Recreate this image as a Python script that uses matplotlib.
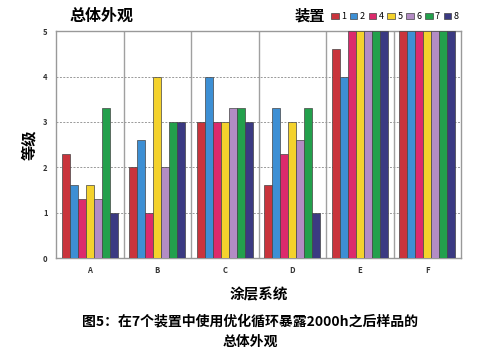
import matplotlib.pyplot as plt
import numpy as np

plt.rcParams['font.family'] = ['Noto Sans CJK SC', 'DejaVu Sans']

systems = ["A", "B", "C", "D", "E", "F"]
devices = ["1", "2", "4", "5", "6", "7", "8"]
ratings = {
    "1": [2.3, 2.0, 3.0, 1.6, 4.6, 5.0],
    "2": [1.6, 2.6, 4.0, 3.3, 4.0, 5.0],
    "4": [1.3, 1.0, 3.0, 2.3, 5.0, 5.0],
    "5": [1.6, 4.0, 3.0, 3.0, 5.0, 5.0],
    "6": [1.3, 2.0, 3.3, 2.6, 5.0, 5.0],
    "7": [3.3, 3.0, 3.3, 3.3, 5.0, 5.0],
    "8": [1.0, 3.0, 3.0, 1.0, 5.0, 5.0],
}
colors = ["#c9343c", "#3d8fd4", "#dc2a6c", "#f4d22c", "#b38cc4", "#23a04c", "#3b3a82"]

fig = plt.figure(figsize=(5, 3.54), dpi=100)
ax = fig.add_axes([0.112, 0.271, 0.81, 0.641])

x = np.arange(len(systems))
bar_w = 0.83 / len(devices)
for i, (dev, col) in enumerate(zip(devices, colors)):
    offs = (i - (len(devices) - 1) / 2) * bar_w
    ax.bar(x + offs, ratings[dev], width=bar_w, color=col, edgecolor="#444444",
           linewidth=0.5, label=dev, zorder=3)

ax.set_xlim(-0.5, len(systems) - 0.5)
ax.set_ylim(0, 5)
ax.set_yticks(range(6))
ax.set_xticks(x)
ax.set_xticklabels(systems)
ax.tick_params(axis="both", labelsize=5.5, length=0, pad=6, colors="#333333")
for lab in ax.get_xticklabels() + ax.get_yticklabels():
    lab.set_fontweight("bold")

ax.yaxis.grid(True, linestyle=(0, (2, 1.5)), color="#999999", linewidth=0.7, zorder=0)
for sep in np.arange(0.5, len(systems) - 0.5):
    ax.axvline(sep, color="#a0a0a0", linewidth=1.0, zorder=1)
for sp in ax.spines.values():
    sp.set_color("#999999")
    sp.set_linewidth(1.0)

ax.set_ylabel("等级", fontsize=11, fontweight="bold", labelpad=4)
ax.set_xlabel("涂层系统", fontsize=10.5, fontweight="bold", labelpad=8)

fig.text(0.14, 0.955, "总体外观", fontsize=11.5, fontweight="bold", ha="left", va="center")
fig.text(0.59, 0.955, "装置", fontsize=11, fontweight="bold", ha="left", va="center")
fig.legend(loc="center left", bbox_to_anchor=(0.662, 0.952), ncol=7, frameon=False,
           fontsize=6.5, handlelength=0.85, handleheight=0.7, handletextpad=0.25,
           columnspacing=0.42, borderaxespad=0, borderpad=0)

fig.text(0.5, 0.093, "图5：在7个装置中使用优化循环暴露2000h之后样品的", fontsize=10,
         fontweight="bold", ha="center", va="center")
fig.text(0.5, 0.035, "总体外观", fontsize=10, fontweight="bold", ha="center", va="center")

fig.savefig("out.png", dpi=100)
